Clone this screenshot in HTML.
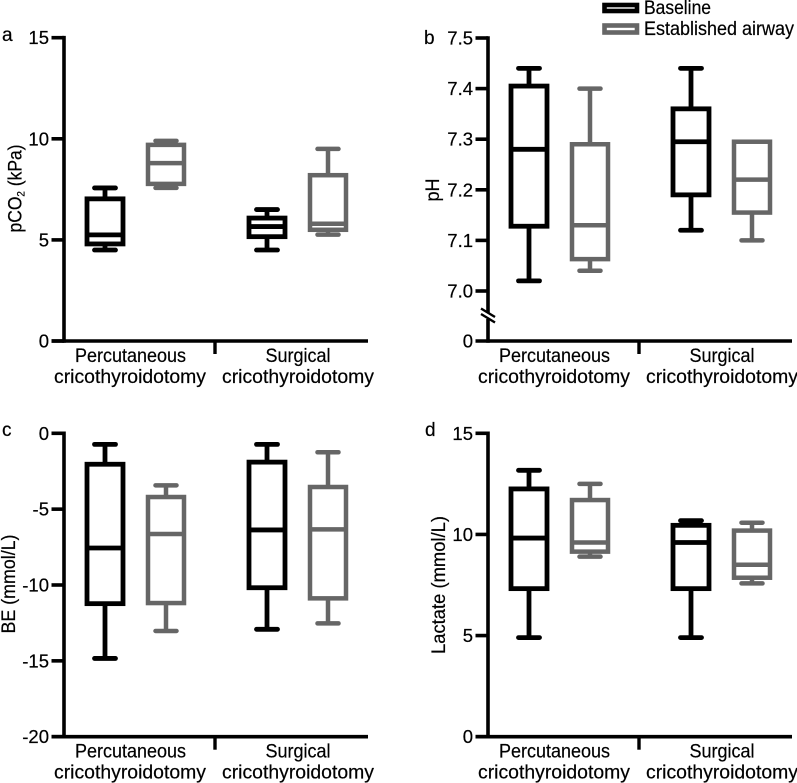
<!DOCTYPE html>
<html>
<head>
<meta charset="utf-8">
<title>Blood gas box plots</title>
<style>
html,body{margin:0;padding:0;background:#fff;width:797px;height:783px;overflow:hidden}
svg{display:block}
text{font-family:"Liberation Sans",sans-serif;fill:#000;stroke:#000;stroke-width:.2}
</style>
</head>
<body>
<svg id="figure" width="797" height="783" viewBox="0 0 797 783" xmlns="http://www.w3.org/2000/svg"></svg>
<script>
// ---- Data: each box is [upper whisker, Q3, median, Q1, lower whisker] ----
const categories = [["Percutaneous", "cricothyroidotomy"], ["Surgical", "cricothyroidotomy"]];
const seriesNames = ["Baseline", "Established airway"];

const pco2Baseline = [[7.57, 7.03, 5.25, 4.8, 4.5], [6.5, 6.08, 5.66, 5.16, 4.5]];
const pco2Airway = [[9.9, 9.7, 8.8, 7.77, 7.57], [9.5, 8.2, 5.8, 5.5, 5.26]];
const pco2Ticks = [0, 5, 10, 15];

const phBaseline = [[7.44, 7.405, 7.28, 7.128, 7.02], [7.44, 7.36, 7.295, 7.19, 7.12]];
const phAirway = [[7.40, 7.29, 7.13, 7.063, 7.04], [7.295, 7.295, 7.22, 7.155, 7.10]];
const phTicks = [7.0, 7.1, 7.2, 7.3, 7.4, 7.5];

const beBaseline = [[-0.73, -2.04, -7.56, -11.23, -14.84], [-0.73, -1.9, -6.37, -10.18, -12.92]];
const beAirway = [[-3.43, -4.2, -6.64, -11.19, -13.03], [-1.25, -3.54, -6.33, -10.88, -12.53]];
const beTicks = [0, -5, -10, -15, -20];

const lactateBaseline = [[13.17, 12.25, 9.82, 7.32, 4.9], [10.68, 10.45, 9.6, 7.32, 4.9]];
const lactateAirway = [[12.5, 11.7, 9.6, 9.15, 8.9], [10.58, 10.19, 8.5, 7.86, 7.58]];
const lactateTicks = [0, 5, 10, 15];

// ---- Rendering ----
const NS = "http://www.w3.org/2000/svg";
const root = document.getElementById("figure");
const BLACK = "#000000";
const GREY = "#666666";

function el(tag, attrs, parent) {
  const node = document.createElementNS(NS, tag);
  for (const k in attrs) node.setAttribute(k, attrs[k]);
  parent.appendChild(node);
  return node;
}
function label(parent, name, str, x, y, size, anchor, len) {
  const t = el("text", {x: x, y: y, "font-size": size, "text-anchor": anchor}, parent);
  
  
  t.textContent = str;
  if (len) { t.setAttribute("textLength", len); t.setAttribute("lengthAdjust", "spacingAndGlyphs"); }
  return t;
}
function line(parent, x1, y1, x2, y2, color, w, cap) {
  return el("line", {x1: x1, y1: y1, x2: x2, y2: y2, stroke: color, "stroke-width": w, "stroke-linecap": cap || "butt"}, parent);
}
function linearScale(domainLo, domainHi, pxLo, pxHi) {
  return v => pxLo + (v - domainLo) / (domainHi - domainLo) * (pxHi - pxLo);
}

function drawBox(parent, stats, cx, y, color, sw, name) {
  const g = el("g", {}, parent);
  
  
  const hi = y(stats[0]), q3 = y(stats[1]), med = y(stats[2]), q1 = y(stats[3]), lo = y(stats[4]);
  line(g, cx, hi, cx, q3, color, sw);
  line(g, cx, q1, cx, lo, color, sw);
  if (stats[0] !== stats[1]) line(g, cx - 10.5, hi, cx + 10.5, hi, color, sw, "round");
  line(g, cx - 10.5, lo, cx + 10.5, lo, color, sw, "round");
  el("rect", {x: cx - 18, y: q3, width: 36, height: q1 - q3, fill: "none", stroke: color, "stroke-width": sw, "stroke-linejoin": "miter"}, g);
  line(g, cx - 18, med, cx + 18, med, color, sw);
}

function drawPanel(p) {
  const g = el("g", {}, root);
  
  
  const ax = p.axisX, top = p.top, bottom = p.bottom;

  // y axis
  const yAxis = line(g, ax, top - 1.8, ax, bottom + 1.8, BLACK, 3.6);
  
  

  // x axis
  const xAxis = line(g, ax - 12.5, bottom, ax + 304, bottom, BLACK, 3.6);
  
  
  line(g, ax + 151, bottom, ax + 151, bottom + 13, BLACK, 3.4);

  // y ticks
  p.ticks.forEach(v => {
    const ty = p.y(v);
    line(g, ax - 12.5, ty, ax, ty, BLACK, 3.6);
    label(g, "y-tick-label", p.format(v), ax - 15, ty + 6.5, 18.5, "end");
  });
  if (p.zeroTick) {
    label(g, "y-tick-label", "0", ax - 15, bottom + 6.5, 18.5, "end");
  }

  // axis break
  if (p.breakAt) {
    const by = p.breakAt;
    el("rect", {x: ax - 3, y: by - 3, width: 6, height: 6, fill: "#fff"}, g);
    line(g, ax - 7, by - 7.5, ax + 7, by + 1, BLACK, 2.4);
    line(g, ax - 7, by - 2, ax + 7, by + 6.5, BLACK, 2.4);
  }

  // boxes
  p.baseline.forEach((stats, i) => {
    drawBox(g, stats, ax + p.centers[i][0], p.y, BLACK, 4.8, "baseline-box-" + (i + 1));
  });
  p.airway.forEach((stats, i) => {
    drawBox(g, stats, ax + p.centers[i][1], p.y, GREY, 4.5, "established-airway-box-" + (i + 1));
  });

  // category labels
  const lb = bottom + 21, lb2 = bottom + 42;
  label(g, "x-category-label", categories[0][0], ax + 66.5, lb, 19.5, "middle", 111);
  label(g, "x-category-label", categories[0][1], ax + 66, lb2, 19.5, "middle", 152);
  label(g, "x-category-label", categories[1][0], ax + 234, lb, 19.5, "middle", 65);
  label(g, "x-category-label", categories[1][1], ax + 234, lb2, 19.5, "middle", 152);

  // y title
  const tx = p.titleX, ty = p.titleY;
  const title = el("text", {x: 0, y: 0, "font-size": 19.5, "text-anchor": "middle", transform: "translate(" + tx + " " + ty + ") rotate(-90)", textLength: p.titleLen, lengthAdjust: "spacingAndGlyphs"}, g);
  
  
  p.title.forEach(part => {
    const s = el("tspan", part.sub ? {"font-size": 11, dy: 3} : {dy: part.back ? -3 : 0}, title);
    s.textContent = part.t;
  });

  // panel letter
  label(g, "panel-letter", p.letter, p.letterX, p.letterY, 19, "start");
}

const centers = [[41, 102], [203, 264]];
const format0 = v => String(v);

const yA = linearScale(0, 15, 341, 37.7);
const yC = linearScale(-20, 0, 736.7, 433.3);
const yD = linearScale(0, 15, 736.7, 433.3);
const yBUpper = linearScale(7.0, 7.5, 291, 38);
const yB = v => v < 7 ? 341 : yBUpper(v);

drawPanel({name: "panel-a-pco2", letter: "a", letterX: 2, letterY: 41, axisX: 64, top: 37.7, bottom: 341,
  y: yA, ticks: pco2Ticks, format: format0, baseline: pco2Baseline, airway: pco2Airway, centers: centers,
  title: [{t: "pCO"}, {t: "2", sub: true}, {t: " (kPa)", back: true}], titleX: 21.5, titleY: 188.5, titleLen: 88});

drawPanel({name: "panel-b-ph", letter: "b", letterX: 424, letterY: 44, axisX: 488, top: 38, bottom: 341,
  y: yB, ticks: phTicks, format: v => v.toFixed(1), baseline: phBaseline, airway: phAirway, centers: centers,
  zeroTick: true, breakAt: 316,
  title: [{t: "pH"}], titleX: 439, titleY: 190, titleLen: 23});

drawPanel({name: "panel-c-be", letter: "c", letterX: 2, letterY: 436, axisX: 64, top: 433.3, bottom: 736.7,
  y: yC, ticks: beTicks, format: format0, baseline: beBaseline, airway: beAirway, centers: centers,
  title: [{t: "BE (mmol/L)"}], titleX: 15, titleY: 584, titleLen: 99});

drawPanel({name: "panel-d-lactate", letter: "d", letterX: 425, letterY: 436, axisX: 488, top: 433.3, bottom: 736.7,
  y: yD, ticks: lactateTicks, format: format0, baseline: lactateBaseline, airway: lactateAirway, centers: centers,
  title: [{t: "Lactate (mmol/L)"}], titleX: 445, titleY: 585, titleLen: 138});

// legend
const legend = el("g", {}, root);


[[BLACK, 5, 6, 14, 67], [GREY, 25.5, 7, 35, 150]].forEach((r, i) => {
  const entry = el("g", {}, legend);
  
  
  el("rect", {x: 604.5, y: r[1], width: 32.5, height: r[2], fill: "none", stroke: r[0], "stroke-width": 4.6}, entry);
  label(entry, "legend-label", seriesNames[i], 644, r[3], 19.5, "start", r[4]);
});
</script>
</body>
</html>
